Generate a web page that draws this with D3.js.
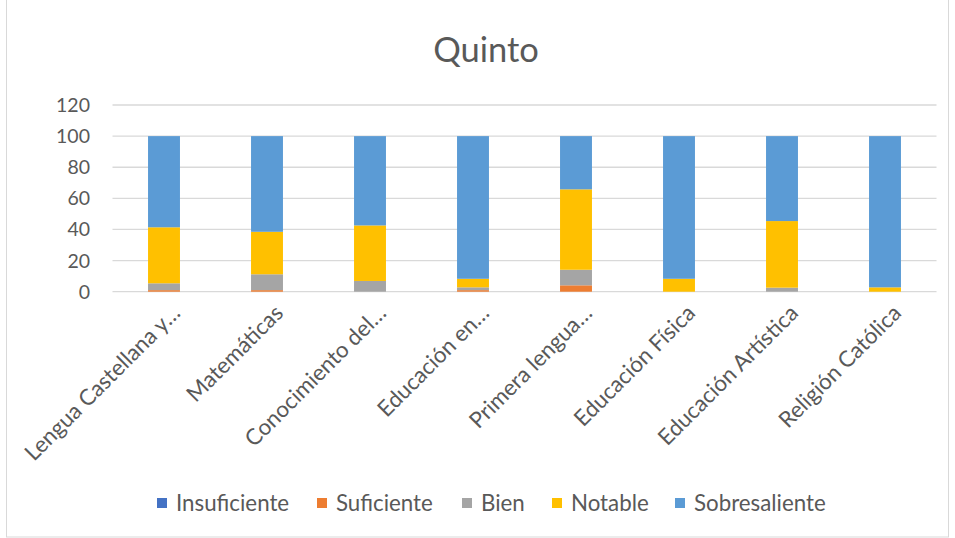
<!DOCTYPE html>
<html><head><meta charset="utf-8">
<script src="https://cdn.jsdelivr.net/npm/d3@7"></script>
<style>body{margin:0;background:#fff;} svg{display:block;}</style>
</head><body>
<svg id="c" width="955" height="538"></svg>
<script>
const categories = ["Lengua Castellana y…","Matemáticas","Conocimiento del…","Educación en…","Primera lengua…","Educación Física","Educación Artística","Religión Católica"];
const seriesNames = ["Insuficiente","Suficiente","Bien","Notable","Sobresaliente"];
const insuficiente = [0,0,0,0,0,0,0,0];
const suficiente = [1,1,0,1,4.1,0,0,0];
const bien = [4.4,10.2,6.9,1.8,10,0,2.6,0];
const notable = [36,27.3,35.7,5.5,51.7,8.3,42.8,2.8];
const sobresaliente = [58.6,61.5,57.4,91.7,34.2,91.7,54.6,97.2];
const yTicks = [0,20,40,60,80,100,120];
const colors = ["#4472C4","#ED7D31","#A5A5A5","#FFC000","#5B9BD5"];
const title = "Quinto";

const font = "Lato, sans-serif";
const svg = d3.select("#c");
svg.append("rect").attr("x",6.5).attr("y",-2).attr("width",942).attr("height",539)
  .attr("fill","#fff").attr("stroke","#d9d9d9");

const x = d3.scaleBand().domain(categories).range([112.5,936.5]).paddingInner(0.69).paddingOuter(0.345);
const y = d3.scaleLinear().domain([0,120]).range([291.7,105]);

svg.append("g").selectAll("line").data(yTicks).join("line")
  .attr("x1",112.5).attr("x2",936.5).attr("y1",d=>y(d)).attr("y2",d=>y(d))
  .attr("stroke","#d9d9d9").attr("stroke-width",1.3);

svg.append("g").selectAll("text").data(yTicks).join("text")
  .attr("x",90).attr("y",d=>y(d)).attr("dy","0.36em").attr("text-anchor","end")
  .attr("font-family",font).attr("font-size",19.5).attr("fill","#595959").text(d=>d);

const table = categories.map((c,i)=>({cat:c,Insuficiente:insuficiente[i],Suficiente:suficiente[i],Bien:bien[i],Notable:notable[i],Sobresaliente:sobresaliente[i]}));
const stack = d3.stack().keys(seriesNames)(table);

svg.append("g").selectAll("g").data(stack).join("g").attr("fill",(d,i)=>colors[i])
  .selectAll("rect").data(d=>d).join("rect")
  .attr("x",d=>x(d.data.cat)).attr("width",x.bandwidth())
  .attr("y",d=>y(d[1])).attr("height",d=>Math.max(0,y(d[0])-y(d[1])));

svg.append("g").selectAll("text").data(categories).join("text")
  .attr("transform",d=>`translate(${x(d)+x.bandwidth()/2+12},${309}) rotate(-45)`)
  .attr("text-anchor","end").attr("dy","0.35em")
  .attr("font-family",font).attr("font-size",22.3).attr("fill","#595959").text(d=>d);

svg.append("text").attr("x",486).attr("y",62).attr("text-anchor","middle")
  .attr("font-family",font).attr("font-size",34.5).attr("fill","#595959").text(title);

const legX = [157,317,462,552,675];
const leg = svg.append("g").selectAll("g").data(seriesNames).join("g")
  .attr("transform",(d,i)=>`translate(${legX[i]},503)`);
leg.append("rect").attr("x",0).attr("y",-5).attr("width",10).attr("height",10).attr("fill",(d,i)=>colors[i]);
leg.append("text").attr("x",19).attr("y",0).attr("dy","0.36em")
  .attr("font-family",font).attr("font-size",22.3).attr("fill","#595959").text(d=>d);
</script>
</body></html>
